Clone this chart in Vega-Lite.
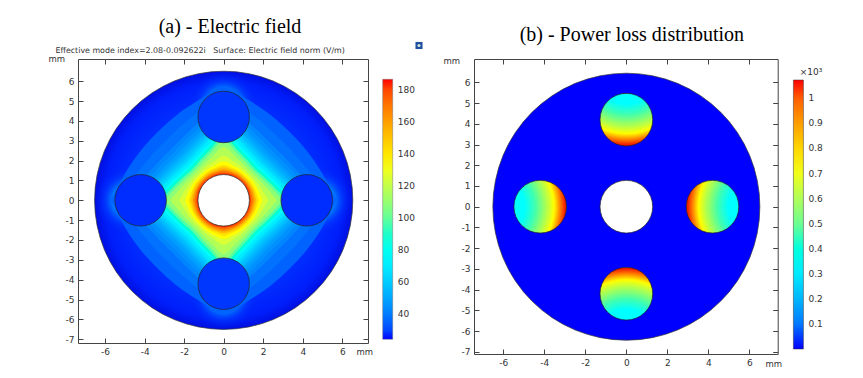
{"$schema":"https://vega.github.io/schema/vega-lite/v6.json","padding":{"left":47,"top":16,"right":0,"bottom":0},"background":"white","bounds":"flush","spacing":106,
"resolve":{"scale":{"color":"independent"},"legend":{"color":"independent"}},
"config":{"view":{"stroke":"#444","strokeWidth":1},"axis":{"grid":false,"domain":false,"ticks":true,"tickColor":"#444","tickSize":-5,"labelFont":"DejaVu Sans","labelFontSize":9,"labelColor":"#333","titleFont":"DejaVu Sans","titleFontSize":8.5,"titleFontWeight":"normal","titleColor":"#333"},"legend":{"labelFont":"DejaVu Sans","labelFontSize":9,"labelColor":"#333","titleFont":"DejaVu Sans","titleFontWeight":"normal","titleColor":"#333"}},
"hconcat":[
{"width":290,"height":284,
"title":{"text":"(a) - Electric field","font":"Liberation Serif","fontSize":20,"fontWeight":"normal","color":"#000","anchor":"middle","dx":7,"offset":5},
"resolve":{"axis":{"x":"independent","y":"independent"}},
"encoding":{"x":{"field":"x","type":"quantitative","scale":{"domain":[-7.37,7.30],"nice":false,"zero":false},"axis":null},"y":{"field":"y","type":"quantitative","scale":{"domain":[-7.19,7.12],"nice":false,"zero":false},"axis":null}},
"layer":[
{"data":{"values":[{"x":0,"y":0}]},"mark":{"type":"circle","opacity":0},
"encoding":{"x":{"field":"x","type":"quantitative","scale":{"domain":[-7.37,7.30],"nice":false,"zero":false},"axis":{"orient":"bottom","values":[-6,-4,-2,0,2,4,6],"labelExpr":"''+datum.value","labelPadding":9,"title":"mm","titleX":278,"titleY":11,"titleAlign":"left","titleBaseline":"alphabetic"}},
"y":{"field":"y","type":"quantitative","scale":{"domain":[-7.19,7.12],"nice":false,"zero":false},"axis":{"orient":"left","values":[-7,-6,-5,-4,-3,-2,-1,0,1,2,3,4,5,6],"labelExpr":"''+datum.value","labelPadding":9,"title":"mm","titleAngle":0,"titleX":-30,"titleY":2,"titleAlign":"left","titleBaseline":"alphabetic"}}}},
{"data":{"values":[{"x":0,"y":0}]},"mark":{"type":"circle","opacity":0},
"encoding":{"x":{"field":"x","type":"quantitative","scale":{"domain":[-7.37,7.30],"nice":false,"zero":false},"axis":{"orient":"top","values":[-6,-4,-2,0,2,4,6],"labels":false,"title":"Effective mode index=2.08-0.092622i\u00a0\u00a0\u00a0Surface: Electric field norm (V/m)","titleFontSize":7.9,"titleX":-23,"titleY":-7,"titleAlign":"left","titleBaseline":"alphabetic"}},
"y":{"field":"y","type":"quantitative","scale":{"domain":[-7.19,7.12],"nice":false,"zero":false},"axis":{"orient":"right","values":[-7,-6,-5,-4,-3,-2,-1,0,1,2,3,4,5,6],"labels":false,"title":null}}}},
{"data":{"values":[{"x":0,"y":0}]},"mark":{"type":"circle","size":66670,"opacity":1,"stroke":"#333","strokeWidth":0.7,"fill":{"gradient":"radial","x1":0.5,"y1":0.5,"r1":0,"x2":0.5,"y2":0.5,"r2":0.5,"stops":[{"offset":0,"color":"rgb(0,50,255)"},{"offset":0.75,"color":"rgb(0,45,255)"},{"offset":0.92,"color":"rgb(0,30,250)"},{"offset":1,"color":"rgb(0,15,225)"}]}}},
{"data":{"values":[{"x":0,"y":-4.8},{"x":0,"y":4.8},{"x":-4.8,"y":0},{"x":4.8,"y":0}]},"mark":{"type":"circle","size":4530,"opacity":1,"fill":{"gradient":"radial","x1":0.5,"y1":0.5,"r1":0,"x2":0.5,"y2":0.5,"r2":0.5,"stops":[{"offset":0.4,"color":"rgba(0,160,255,1)"},{"offset":0.75,"color":"rgba(0,70,255,0.4)"},{"offset":1,"color":"rgba(0,40,255,0)"}]}}},
{"data":{"values":[
{"v":35,"x":-5.7,"y":0,"y2":0},{"v":35,"x":-5,"y":1.34,"y2":-1.34},{"v":35,"x":-4.24,"y":2.45,"y2":-2.45},{"v":35,"x":-3.39,"y":3.39,"y2":-3.39},{"v":35,"x":-2.45,"y":4.24,"y2":-4.24},{"v":35,"x":-1.34,"y":5,"y2":-5},{"v":35,"x":0,"y":5.7,"y2":-5.7},{"v":35,"x":1.34,"y":5,"y2":-5},{"v":35,"x":2.45,"y":4.24,"y2":-4.24},{"v":35,"x":3.39,"y":3.39,"y2":-3.39},{"v":35,"x":4.24,"y":2.45,"y2":-2.45},{"v":35,"x":5,"y":1.34,"y2":-1.34},{"v":35,"x":5.7,"y":0,"y2":0},
{"v":38,"x":-5.3,"y":0,"y2":0},{"v":38,"x":-4.5,"y":1.21,"y2":-1.21},{"v":38,"x":-3.74,"y":2.16,"y2":-2.16},{"v":38,"x":-2.97,"y":2.97,"y2":-2.97},{"v":38,"x":-2.16,"y":3.74,"y2":-3.74},{"v":38,"x":-1.21,"y":4.5,"y2":-4.5},{"v":38,"x":0,"y":5.3,"y2":-5.3},{"v":38,"x":1.21,"y":4.5,"y2":-4.5},{"v":38,"x":2.16,"y":3.74,"y2":-3.74},{"v":38,"x":2.97,"y":2.97,"y2":-2.97},{"v":38,"x":3.74,"y":2.16,"y2":-2.16},{"v":38,"x":4.5,"y":1.21,"y2":-1.21},{"v":38,"x":5.3,"y":0,"y2":0},
{"v":42,"x":-4.9,"y":0,"y2":0},{"v":42,"x":-4.06,"y":1.09,"y2":-1.09},{"v":42,"x":-3.32,"y":1.92,"y2":-1.92},{"v":42,"x":-2.62,"y":2.62,"y2":-2.62},{"v":42,"x":-1.92,"y":3.32,"y2":-3.32},{"v":42,"x":-1.09,"y":4.06,"y2":-4.06},{"v":42,"x":0,"y":4.9,"y2":-4.9},{"v":42,"x":1.09,"y":4.06,"y2":-4.06},{"v":42,"x":1.92,"y":3.32,"y2":-3.32},{"v":42,"x":2.62,"y":2.62,"y2":-2.62},{"v":42,"x":3.32,"y":1.92,"y2":-1.92},{"v":42,"x":4.06,"y":1.09,"y2":-1.09},{"v":42,"x":4.9,"y":0,"y2":0},
{"v":45,"x":-4.7,"y":0,"y2":0},{"v":45,"x":-3.86,"y":1.04,"y2":-1.04},{"v":45,"x":-3.14,"y":1.82,"y2":-1.82},{"v":45,"x":-2.47,"y":2.47,"y2":-2.47},{"v":45,"x":-1.82,"y":3.14,"y2":-3.14},{"v":45,"x":-1.04,"y":3.86,"y2":-3.86},{"v":45,"x":0,"y":4.7,"y2":-4.7},{"v":45,"x":1.04,"y":3.86,"y2":-3.86},{"v":45,"x":1.82,"y":3.14,"y2":-3.14},{"v":45,"x":2.47,"y":2.47,"y2":-2.47},{"v":45,"x":3.14,"y":1.82,"y2":-1.82},{"v":45,"x":3.86,"y":1.04,"y2":-1.04},{"v":45,"x":4.7,"y":0,"y2":0},
{"v":48,"x":-4.5,"y":0,"y2":0},{"v":48,"x":-3.67,"y":0.98,"y2":-0.98},{"v":48,"x":-2.97,"y":1.72,"y2":-1.72},{"v":48,"x":-2.33,"y":2.33,"y2":-2.33},{"v":48,"x":-1.72,"y":2.97,"y2":-2.97},{"v":48,"x":-0.98,"y":3.67,"y2":-3.67},{"v":48,"x":0,"y":4.5,"y2":-4.5},{"v":48,"x":0.98,"y":3.67,"y2":-3.67},{"v":48,"x":1.72,"y":2.97,"y2":-2.97},{"v":48,"x":2.33,"y":2.33,"y2":-2.33},{"v":48,"x":2.97,"y":1.72,"y2":-1.72},{"v":48,"x":3.67,"y":0.98,"y2":-0.98},{"v":48,"x":4.5,"y":0,"y2":0},
{"v":51,"x":-4.35,"y":0,"y2":0},{"v":51,"x":-3.54,"y":0.95,"y2":-0.95},{"v":51,"x":-2.85,"y":1.65,"y2":-1.65},{"v":51,"x":-2.23,"y":2.23,"y2":-2.23},{"v":51,"x":-1.65,"y":2.85,"y2":-2.85},{"v":51,"x":-0.95,"y":3.54,"y2":-3.54},{"v":51,"x":0,"y":4.35,"y2":-4.35},{"v":51,"x":0.95,"y":3.54,"y2":-3.54},{"v":51,"x":1.65,"y":2.85,"y2":-2.85},{"v":51,"x":2.23,"y":2.23,"y2":-2.23},{"v":51,"x":2.85,"y":1.65,"y2":-1.65},{"v":51,"x":3.54,"y":0.95,"y2":-0.95},{"v":51,"x":4.35,"y":0,"y2":0},
{"v":55,"x":-4.2,"y":0,"y2":0},{"v":55,"x":-3.4,"y":0.91,"y2":-0.91},{"v":55,"x":-2.73,"y":1.58,"y2":-1.58},{"v":55,"x":-2.14,"y":2.14,"y2":-2.14},{"v":55,"x":-1.58,"y":2.73,"y2":-2.73},{"v":55,"x":-0.91,"y":3.4,"y2":-3.4},{"v":55,"x":0,"y":4.2,"y2":-4.2},{"v":55,"x":0.91,"y":3.4,"y2":-3.4},{"v":55,"x":1.58,"y":2.73,"y2":-2.73},{"v":55,"x":2.14,"y":2.14,"y2":-2.14},{"v":55,"x":2.73,"y":1.58,"y2":-1.58},{"v":55,"x":3.4,"y":0.91,"y2":-0.91},{"v":55,"x":4.2,"y":0,"y2":0},
{"v":58,"x":-4.07,"y":0,"y2":0},{"v":58,"x":-3.27,"y":0.88,"y2":-0.88},{"v":58,"x":-2.62,"y":1.52,"y2":-1.52},{"v":58,"x":-2.05,"y":2.05,"y2":-2.05},{"v":58,"x":-1.52,"y":2.62,"y2":-2.62},{"v":58,"x":-0.88,"y":3.27,"y2":-3.27},{"v":58,"x":0,"y":4.07,"y2":-4.07},{"v":58,"x":0.88,"y":3.27,"y2":-3.27},{"v":58,"x":1.52,"y":2.62,"y2":-2.62},{"v":58,"x":2.05,"y":2.05,"y2":-2.05},{"v":58,"x":2.62,"y":1.52,"y2":-1.52},{"v":58,"x":3.27,"y":0.88,"y2":-0.88},{"v":58,"x":4.07,"y":0,"y2":0},
{"v":62,"x":-3.95,"y":0,"y2":0},{"v":62,"x":-3.17,"y":0.85,"y2":-0.85},{"v":62,"x":-2.54,"y":1.47,"y2":-1.47},{"v":62,"x":-1.98,"y":1.98,"y2":-1.98},{"v":62,"x":-1.47,"y":2.54,"y2":-2.54},{"v":62,"x":-0.85,"y":3.17,"y2":-3.17},{"v":62,"x":0,"y":3.95,"y2":-3.95},{"v":62,"x":0.85,"y":3.17,"y2":-3.17},{"v":62,"x":1.47,"y":2.54,"y2":-2.54},{"v":62,"x":1.98,"y":1.98,"y2":-1.98},{"v":62,"x":2.54,"y":1.47,"y2":-1.47},{"v":62,"x":3.17,"y":0.85,"y2":-0.85},{"v":62,"x":3.95,"y":0,"y2":0},
{"v":66,"x":-3.82,"y":0,"y2":0},{"v":66,"x":-3.06,"y":0.82,"y2":-0.82},{"v":66,"x":-2.44,"y":1.41,"y2":-1.41},{"v":66,"x":-1.91,"y":1.91,"y2":-1.91},{"v":66,"x":-1.41,"y":2.44,"y2":-2.44},{"v":66,"x":-0.82,"y":3.06,"y2":-3.06},{"v":66,"x":0,"y":3.82,"y2":-3.82},{"v":66,"x":0.82,"y":3.06,"y2":-3.06},{"v":66,"x":1.41,"y":2.44,"y2":-2.44},{"v":66,"x":1.91,"y":1.91,"y2":-1.91},{"v":66,"x":2.44,"y":1.41,"y2":-1.41},{"v":66,"x":3.06,"y":0.82,"y2":-0.82},{"v":66,"x":3.82,"y":0,"y2":0},
{"v":70,"x":-3.7,"y":0,"y2":0},{"v":70,"x":-2.97,"y":0.8,"y2":-0.8},{"v":70,"x":-2.37,"y":1.37,"y2":-1.37},{"v":70,"x":-1.85,"y":1.85,"y2":-1.85},{"v":70,"x":-1.37,"y":2.37,"y2":-2.37},{"v":70,"x":-0.8,"y":2.97,"y2":-2.97},{"v":70,"x":0,"y":3.7,"y2":-3.7},{"v":70,"x":0.8,"y":2.97,"y2":-2.97},{"v":70,"x":1.37,"y":2.37,"y2":-2.37},{"v":70,"x":1.85,"y":1.85,"y2":-1.85},{"v":70,"x":2.37,"y":1.37,"y2":-1.37},{"v":70,"x":2.97,"y":0.8,"y2":-0.8},{"v":70,"x":3.7,"y":0,"y2":0},
{"v":78,"x":-3.5,"y":0,"y2":0},{"v":78,"x":-2.81,"y":0.75,"y2":-0.75},{"v":78,"x":-2.24,"y":1.3,"y2":-1.3},{"v":78,"x":-1.75,"y":1.75,"y2":-1.75},{"v":78,"x":-1.3,"y":2.24,"y2":-2.24},{"v":78,"x":-0.75,"y":2.81,"y2":-2.81},{"v":78,"x":0,"y":3.5,"y2":-3.5},{"v":78,"x":0.75,"y":2.81,"y2":-2.81},{"v":78,"x":1.3,"y":2.24,"y2":-2.24},{"v":78,"x":1.75,"y":1.75,"y2":-1.75},{"v":78,"x":2.24,"y":1.3,"y2":-1.3},{"v":78,"x":2.81,"y":0.75,"y2":-0.75},{"v":78,"x":3.5,"y":0,"y2":0},
{"v":88,"x":-3.35,"y":0,"y2":0},{"v":88,"x":-2.69,"y":0.72,"y2":-0.72},{"v":88,"x":-2.14,"y":1.24,"y2":-1.24},{"v":88,"x":-1.67,"y":1.67,"y2":-1.67},{"v":88,"x":-1.24,"y":2.14,"y2":-2.14},{"v":88,"x":-0.72,"y":2.69,"y2":-2.69},{"v":88,"x":0,"y":3.35,"y2":-3.35},{"v":88,"x":0.72,"y":2.69,"y2":-2.69},{"v":88,"x":1.24,"y":2.14,"y2":-2.14},{"v":88,"x":1.67,"y":1.67,"y2":-1.67},{"v":88,"x":2.14,"y":1.24,"y2":-1.24},{"v":88,"x":2.69,"y":0.72,"y2":-0.72},{"v":88,"x":3.35,"y":0,"y2":0},
{"v":98,"x":-3.2,"y":0,"y2":0},{"v":98,"x":-2.55,"y":0.68,"y2":-0.68},{"v":98,"x":-2.04,"y":1.18,"y2":-1.18},{"v":98,"x":-1.58,"y":1.58,"y2":-1.58},{"v":98,"x":-1.18,"y":2.04,"y2":-2.04},{"v":98,"x":-0.68,"y":2.55,"y2":-2.55},{"v":98,"x":0,"y":3.2,"y2":-3.2},{"v":98,"x":0.68,"y":2.55,"y2":-2.55},{"v":98,"x":1.18,"y":2.04,"y2":-2.04},{"v":98,"x":1.58,"y":1.58,"y2":-1.58},{"v":98,"x":2.04,"y":1.18,"y2":-1.18},{"v":98,"x":2.55,"y":0.68,"y2":-0.68},{"v":98,"x":3.2,"y":0,"y2":0},
{"v":108,"x":-3,"y":0,"y2":0},{"v":108,"x":-2.41,"y":0.64,"y2":-0.64},{"v":108,"x":-1.92,"y":1.11,"y2":-1.11},{"v":108,"x":-1.5,"y":1.5,"y2":-1.5},{"v":108,"x":-1.11,"y":1.92,"y2":-1.92},{"v":108,"x":-0.64,"y":2.41,"y2":-2.41},{"v":108,"x":0,"y":3,"y2":-3},{"v":108,"x":0.64,"y":2.41,"y2":-2.41},{"v":108,"x":1.11,"y":1.92,"y2":-1.92},{"v":108,"x":1.5,"y":1.5,"y2":-1.5},{"v":108,"x":1.92,"y":1.11,"y2":-1.11},{"v":108,"x":2.41,"y":0.64,"y2":-0.64},{"v":108,"x":3,"y":0,"y2":0},
{"v":117,"x":-2.7,"y":0,"y2":0},{"v":117,"x":-2.2,"y":0.59,"y2":-0.59},{"v":117,"x":-1.78,"y":1.03,"y2":-1.03},{"v":117,"x":-1.4,"y":1.4,"y2":-1.4},{"v":117,"x":-1.03,"y":1.78,"y2":-1.78},{"v":117,"x":-0.59,"y":2.2,"y2":-2.2},{"v":117,"x":0,"y":2.7,"y2":-2.7},{"v":117,"x":0.59,"y":2.2,"y2":-2.2},{"v":117,"x":1.03,"y":1.78,"y2":-1.78},{"v":117,"x":1.4,"y":1.4,"y2":-1.4},{"v":117,"x":1.78,"y":1.03,"y2":-1.03},{"v":117,"x":2.2,"y":0.59,"y2":-0.59},{"v":117,"x":2.7,"y":0,"y2":0},
{"v":125,"x":-2.25,"y":0,"y2":0},{"v":125,"x":-1.94,"y":0.52,"y2":-0.52},{"v":125,"x":-1.64,"y":0.95,"y2":-0.95},{"v":125,"x":-1.3,"y":1.3,"y2":-1.3},{"v":125,"x":-0.95,"y":1.64,"y2":-1.64},{"v":125,"x":-0.52,"y":1.94,"y2":-1.94},{"v":125,"x":0,"y":2.25,"y2":-2.25},{"v":125,"x":0.52,"y":1.94,"y2":-1.94},{"v":125,"x":0.95,"y":1.64,"y2":-1.64},{"v":125,"x":1.3,"y":1.3,"y2":-1.3},{"v":125,"x":1.64,"y":0.95,"y2":-0.95},{"v":125,"x":1.94,"y":0.52,"y2":-0.52},{"v":125,"x":2.25,"y":0,"y2":0},
{"v":133,"x":-1.95,"y":0,"y2":0},{"v":133,"x":-1.76,"y":0.47,"y2":-0.47},{"v":133,"x":-1.52,"y":0.88,"y2":-0.88},{"v":133,"x":-1.22,"y":1.22,"y2":-1.22},{"v":133,"x":-0.88,"y":1.52,"y2":-1.52},{"v":133,"x":-0.47,"y":1.76,"y2":-1.76},{"v":133,"x":0,"y":1.95,"y2":-1.95},{"v":133,"x":0.47,"y":1.76,"y2":-1.76},{"v":133,"x":0.88,"y":1.52,"y2":-1.52},{"v":133,"x":1.22,"y":1.22,"y2":-1.22},{"v":133,"x":1.52,"y":0.88,"y2":-0.88},{"v":133,"x":1.76,"y":0.47,"y2":-0.47},{"v":133,"x":1.95,"y":0,"y2":0},
{"v":142,"x":-1.78,"y":0,"y2":0},{"v":142,"x":-1.63,"y":0.44,"y2":-0.44},{"v":142,"x":-1.43,"y":0.83,"y2":-0.83},{"v":142,"x":-1.15,"y":1.15,"y2":-1.15},{"v":142,"x":-0.83,"y":1.43,"y2":-1.43},{"v":142,"x":-0.44,"y":1.63,"y2":-1.63},{"v":142,"x":0,"y":1.78,"y2":-1.78},{"v":142,"x":0.44,"y":1.63,"y2":-1.63},{"v":142,"x":0.83,"y":1.43,"y2":-1.43},{"v":142,"x":1.15,"y":1.15,"y2":-1.15},{"v":142,"x":1.43,"y":0.83,"y2":-0.83},{"v":142,"x":1.63,"y":0.44,"y2":-0.44},{"v":142,"x":1.78,"y":0,"y2":0},
{"v":152,"x":-1.66,"y":0,"y2":0},{"v":152,"x":-1.55,"y":0.41,"y2":-0.41},{"v":152,"x":-1.36,"y":0.79,"y2":-0.79},{"v":152,"x":-1.1,"y":1.1,"y2":-1.1},{"v":152,"x":-0.79,"y":1.36,"y2":-1.36},{"v":152,"x":-0.41,"y":1.55,"y2":-1.55},{"v":152,"x":0,"y":1.66,"y2":-1.66},{"v":152,"x":0.41,"y":1.55,"y2":-1.55},{"v":152,"x":0.79,"y":1.36,"y2":-1.36},{"v":152,"x":1.1,"y":1.1,"y2":-1.1},{"v":152,"x":1.36,"y":0.79,"y2":-0.79},{"v":152,"x":1.55,"y":0.41,"y2":-0.41},{"v":152,"x":1.66,"y":0,"y2":0},
{"v":162,"x":-1.57,"y":0,"y2":0},{"v":162,"x":-1.47,"y":0.39,"y2":-0.39},{"v":162,"x":-1.3,"y":0.75,"y2":-0.75},{"v":162,"x":-1.05,"y":1.05,"y2":-1.05},{"v":162,"x":-0.75,"y":1.3,"y2":-1.3},{"v":162,"x":-0.39,"y":1.47,"y2":-1.47},{"v":162,"x":0,"y":1.57,"y2":-1.57},{"v":162,"x":0.39,"y":1.47,"y2":-1.47},{"v":162,"x":0.75,"y":1.3,"y2":-1.3},{"v":162,"x":1.05,"y":1.05,"y2":-1.05},{"v":162,"x":1.3,"y":0.75,"y2":-0.75},{"v":162,"x":1.47,"y":0.39,"y2":-0.39},{"v":162,"x":1.57,"y":0,"y2":0},
{"v":172,"x":-1.48,"y":0,"y2":0},{"v":172,"x":-1.4,"y":0.38,"y2":-0.38},{"v":172,"x":-1.25,"y":0.72,"y2":-0.72},{"v":172,"x":-1.01,"y":1.01,"y2":-1.01},{"v":172,"x":-0.72,"y":1.25,"y2":-1.25},{"v":172,"x":-0.38,"y":1.4,"y2":-1.4},{"v":172,"x":0,"y":1.48,"y2":-1.48},{"v":172,"x":0.38,"y":1.4,"y2":-1.4},{"v":172,"x":0.72,"y":1.25,"y2":-1.25},{"v":172,"x":1.01,"y":1.01,"y2":-1.01},{"v":172,"x":1.25,"y":0.72,"y2":-0.72},{"v":172,"x":1.4,"y":0.38,"y2":-0.38},{"v":172,"x":1.48,"y":0,"y2":0},
{"v":182,"x":-1.38,"y":0,"y2":0},{"v":182,"x":-1.32,"y":0.35,"y2":-0.35},{"v":182,"x":-1.18,"y":0.68,"y2":-0.68},{"v":182,"x":-0.96,"y":0.96,"y2":-0.96},{"v":182,"x":-0.68,"y":1.18,"y2":-1.18},{"v":182,"x":-0.35,"y":1.32,"y2":-1.32},{"v":182,"x":0,"y":1.38,"y2":-1.38},{"v":182,"x":0.35,"y":1.32,"y2":-1.32},{"v":182,"x":0.68,"y":1.18,"y2":-1.18},{"v":182,"x":0.96,"y":0.96,"y2":-0.96},{"v":182,"x":1.18,"y":0.68,"y2":-0.68},{"v":182,"x":1.32,"y":0.35,"y2":-0.35},{"v":182,"x":1.38,"y":0,"y2":0}
]},"mark":{"type":"area","interpolate":"monotone"},
"encoding":{"y2":{"field":"y2"},"detail":{"field":"v","type":"quantitative"},"color":{"field":"v","type":"quantitative","scale":{"domain":[24.4,76,105,133,186.5],"range":["#0000ff","#00ffff","#80ff80","#ffff00","#ff0000"]},"legend":{"orient":"none","legendX":304.7,"legendY":20.3,"title":null,"gradientLength":260,"gradientThickness":10,"values":[40,60,80,100,120,140,160,180],"labelOffset":5,"gradientStrokeColor":"#777","gradientStrokeWidth":0.5}}}},
{"data":{"values":[{"x":0,"y":4.2,"v":28},{"x":0,"y":-4.2,"v":28},{"x":-4.2,"y":0,"v":27},{"x":4.2,"y":0,"v":27}]},"mark":{"type":"circle","size":2652,"opacity":1,"stroke":"#222","strokeWidth":0.7},"encoding":{"color":{"field":"v","type":"quantitative","scale":{"domain":[24.4,76,105,133,186.5],"range":["#0000ff","#00ffff","#80ff80","#ffff00","#ff0000"]},"legend":null}}},
{"data":{"values":[{"x":0,"y":0}]},"mark":{"type":"circle","size":2652,"opacity":1,"fill":"white","stroke":"#222","strokeWidth":0.7}},
{"data":{"values":[{"x":9.88,"y":7.8}]},"mark":{"type":"square","size":50,"opacity":1,"fill":"#1f4f9f","cornerRadius":2}},
{"data":{"values":[{"x":9.88,"y":7.8}]},"mark":{"type":"circle","size":10,"opacity":1,"fill":"#cfe6d8"}}
]},
{"width":303.7,"height":295,
"title":{"text":"(b) - Power loss distribution","font":"Liberation Serif","fontSize":20,"fontWeight":"normal","color":"#000","anchor":"middle","dx":6,"offset":11},
"resolve":{"axis":{"x":"independent","y":"independent"}},
"encoding":{"x":{"field":"x","type":"quantitative","scale":{"domain":[-7.43,7.38],"nice":false,"zero":false},"axis":null},"y":{"field":"y","type":"quantitative","scale":{"domain":[-7.11,7.13],"nice":false,"zero":false},"axis":null}},
"layer":[
{"data":{"values":[{"x":0,"y":0}]},"mark":{"type":"circle","opacity":0},
"encoding":{"x":{"field":"x","type":"quantitative","scale":{"domain":[-7.43,7.38],"nice":false,"zero":false},"axis":{"orient":"bottom","values":[-6,-4,-2,0,2,4,6],"labelExpr":"''+datum.value","labelPadding":9,"title":"mm","titleX":291,"titleY":12,"titleAlign":"left","titleBaseline":"alphabetic"}},
"y":{"field":"y","type":"quantitative","scale":{"domain":[-7.11,7.13],"nice":false,"zero":false},"axis":{"orient":"left","values":[-7,-6,-5,-4,-3,-2,-1,0,1,2,3,4,5,6],"labelExpr":"''+datum.value","labelPadding":9,"title":"mm","titleAngle":0,"titleX":-31,"titleY":4,"titleAlign":"left","titleBaseline":"alphabetic"}}}},
{"data":{"values":[{"x":0,"y":0}]},"mark":{"type":"circle","opacity":0},
"encoding":{"x":{"field":"x","type":"quantitative","scale":{"domain":[-7.43,7.38],"nice":false,"zero":false},"axis":{"orient":"top","values":[-6,-4,-2,0,2,4,6],"labels":false,"title":null}},
"y":{"field":"y","type":"quantitative","scale":{"domain":[-7.11,7.13],"nice":false,"zero":false},"axis":{"orient":"right","values":[-7,-6,-5,-4,-3,-2,-1,0,1,2,3,4,5,6],"labels":false,"title":null}}}},
{"data":{"values":[{"x":0,"y":0,"v":0}]},"mark":{"type":"circle","size":71289,"opacity":1,"stroke":"#333","strokeWidth":0.7},
"encoding":{"color":{"field":"v","type":"quantitative","scale":{"domain":[0,0.345,0.52,0.72,1.073],"range":["#0000ff","#00ffff","#80ff80","#ffff00","#ff0000"]},"legend":{"orient":"none","legendX":319.4,"legendY":9,"title":"×10³","titleFontSize":9,"titlePadding":3,"titleAnchor":"end","gradientLength":269,"gradientThickness":10,"values":[0.1,0.2,0.3,0.4,0.5,0.6,0.7,0.8,0.9,1],"format":".1~f","labelOffset":5,"gradientStrokeColor":"#333","gradientStrokeWidth":0.5}}}},
{"data":{"values":[{"x":0,"y":4.2}]},"mark":{"type":"circle","size":2777,"opacity":1,"stroke":"#222","strokeWidth":0.7,"fill":{"gradient":"radial","x1":0.5,"y1":-0.4,"r1":0,"x2":0.5,"y2":-0.4,"r2":1.4,"stops":[{"offset":0.43,"color":"#00ffff"},{"offset":0.571,"color":"#40ffb0"},{"offset":0.75,"color":"#c0ff40"},{"offset":0.83,"color":"#ffff00"},{"offset":0.914,"color":"#ff8000"},{"offset":1,"color":"#ee0000"}]}}},
{"data":{"values":[{"x":0,"y":-4.2}]},"mark":{"type":"circle","size":2777,"opacity":1,"stroke":"#222","strokeWidth":0.7,"fill":{"gradient":"radial","x1":0.5,"y1":1.4,"r1":0,"x2":0.5,"y2":1.4,"r2":1.4,"stops":[{"offset":0.43,"color":"#00ffff"},{"offset":0.571,"color":"#40ffb0"},{"offset":0.75,"color":"#c0ff40"},{"offset":0.83,"color":"#ffff00"},{"offset":0.914,"color":"#ff8000"},{"offset":1,"color":"#ee0000"}]}}},
{"data":{"values":[{"x":-4.2,"y":0}]},"mark":{"type":"circle","size":2777,"opacity":1,"stroke":"#222","strokeWidth":0.7,"fill":{"gradient":"radial","x1":-0.4,"y1":0.5,"r1":0,"x2":-0.4,"y2":0.5,"r2":1.4,"stops":[{"offset":0.43,"color":"#00ffff"},{"offset":0.571,"color":"#40ffb0"},{"offset":0.75,"color":"#c0ff40"},{"offset":0.83,"color":"#ffff00"},{"offset":0.914,"color":"#ff8000"},{"offset":1,"color":"#ee0000"}]}}},
{"data":{"values":[{"x":4.2,"y":0}]},"mark":{"type":"circle","size":2777,"opacity":1,"stroke":"#222","strokeWidth":0.7,"fill":{"gradient":"radial","x1":1.4,"y1":0.5,"r1":0,"x2":1.4,"y2":0.5,"r2":1.4,"stops":[{"offset":0.43,"color":"#00ffff"},{"offset":0.571,"color":"#40ffb0"},{"offset":0.75,"color":"#c0ff40"},{"offset":0.83,"color":"#ffff00"},{"offset":0.914,"color":"#ff8000"},{"offset":1,"color":"#ee0000"}]}}},
{"data":{"values":[{"x":0,"y":0}]},"mark":{"type":"circle","size":2777,"opacity":1,"fill":"white","stroke":"#222","strokeWidth":0.7}}
]}
]}
